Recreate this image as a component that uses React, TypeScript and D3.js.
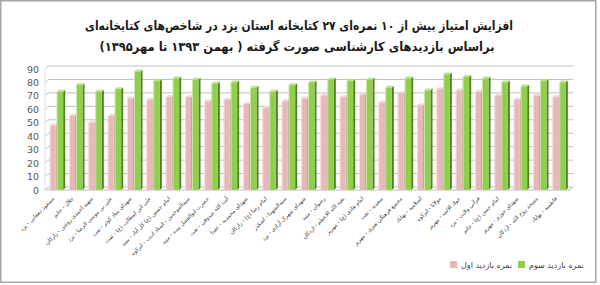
import React from "react";
import * as d3 from "d3";

const categories = [
  "مسعود دهقانی - یزد",
  "جلال - خاتم",
  "شهید احمدی روشن - زارکان",
  "علی بن موسی الرضا - یزد",
  "شهدای بنیاد کوثر - تفت",
  "علی ابن ابیطالب (ع) - تفت",
  "امام حسین (ع) کل آباد - میبد",
  "سیدالموحدین - استاد ادیب - ابرکوه",
  "حضرت ابوالفضل بیده - میبد",
  "آیت الله صدوقی - تفت",
  "شهدای محمدیه - عقدا",
  "امام رضا (ع) - زارکان",
  "سیدالشهدا - اشکذر",
  "شهدای شهرک آزادی - یزد",
  "رضوان - میبد",
  "بقیه الله الاعظم - اردکان",
  "امام هادی (ع) - مهریز",
  "سعدیه - تفت",
  "مجتمع فرهنگی هنری - مهریز",
  "اسلامیه - بهاباد",
  "مولانا - ابرکوه",
  "جواد الائمه - مهریز",
  "قرآنی ولایت - یزد",
  "امام حسن (ع) - خاتم",
  "شهدای جوزم - مهریز",
  "مسجد روح الله - اردکان",
  "فاطمیه - بهاباد",
];

const firstVisit = [48, 55, 50, 55, 68, 67, 69, 69, 66, 67, 64, 61, 66, 68, 70, 69, 71, 65, 72, 63, 75, 74, 73, 70, 67, 70, 69];
const thirdVisit = [73, 78, 73, 75, 88, 81, 83, 82, 79, 80, 76, 73, 78, 80, 82, 81, 82, 76, 83, 74, 86, 84, 83, 80, 77, 81, 80];

const yTicks = [0, 10, 20, 30, 40, 50, 60, 70, 80, 90];

const titleLine1 = "افزایش امتیاز بیش از ۱۰ نمره‌ای ۲۷ کتابخانه استان یزد در شاخص‌های کتابخانه‌ای";
const titleLine2 = "براساس بازدیدهای  کارشناسی صورت گرفته ( بهمن ۱۳۹۳ تا مهر۱۳۹۵)";
const legendFirst = "نمره بازدید اول";
const legendThird = "نمره بازدید سوم";

const W = 600;
const H = 285;
const FONT = "'DejaVu Sans', sans-serif";

export default function App() {
  const x = d3.scaleBand<string>().domain(categories).range([47, 569]).paddingInner(0);
  const y = d3.scaleLinear().domain([0, 90]).range([190, 69]);
  const d = 2;
  const off = 3;

  const bar = (cx: number, w: number, v: number, front: string, side: string, top: string, key: string) => {
    const y0 = y(0);
    const yv = y(v);
    return (
      <g key={key}>
        <polygon points={`${cx + w},${yv} ${cx + w + d},${yv - d} ${cx + w + d},${y0 - d} ${cx + w},${y0}`} fill={side} />
        <polygon points={`${cx},${yv} ${cx + d},${yv - d} ${cx + w + d},${yv - d} ${cx + w},${yv}`} fill={top} />
        <rect x={cx} y={yv} width={w} height={y0 - yv} fill={front} />
        <line x1={cx + 0.5} x2={cx + 0.5} y1={yv} y2={y0} stroke="#ffffff" strokeOpacity={0.5} strokeWidth={1} />
      </g>
    );
  };

  return (
    <svg width={W} height={H} style={{ position: "absolute", left: 0, top: 0, background: "#fff" }} fontFamily={FONT}>
      <rect x={0.75} y={0.75} width={595} height={281.5} fill="#fff" stroke="#a6a6a6" strokeWidth={1.5} />
      <text x={299} y={30} textAnchor="middle" fontSize={12.5} fontWeight="bold" fill="#1a1a1a" direction="rtl"
        textLength={428} lengthAdjust="spacingAndGlyphs">
        {titleLine1}
      </text>
      <text x={297} y={51} textAnchor="middle" fontSize={12.5} fontWeight="bold" fill="#1a1a1a" direction="rtl"
        textLength={395} lengthAdjust="spacingAndGlyphs">
        {titleLine2}
      </text>

      {yTicks.map((t) => (
        <g key={"g" + t}>
          <line x1={45} y1={y(t)} x2={45 + off} y2={y(t) - off} stroke="#bfbfbf" strokeWidth={1} />
          <line x1={45 + off} y1={y(t) - off} x2={573} y2={y(t) - off} stroke="#bfbfbf" strokeWidth={1} />
        </g>
      ))}
      <line x1={45} y1={y(0)} x2={570} y2={y(0)} stroke="#bfbfbf" strokeWidth={1} />
      <line x1={570} y1={y(0)} x2={573} y2={y(0) - off} stroke="#bfbfbf" strokeWidth={1} />
      <line x1={45} y1={y(0)} x2={45} y2={y(90)} stroke="#d9d9d9" strokeWidth={0.8} />

      {yTicks.map((t) => (
        <text key={"yl" + t} x={39} y={y(t) + 3.5} textAnchor="end" fontSize={9.5} fill="#595959">
          {t}
        </text>
      ))}

      {categories.map((c, i) => {
        const cx = (x(c) as number) + x.bandwidth() / 2;
        return (
          <g key={"b" + i}>
            {bar(cx - 7, 6, firstVisit[i], "#e6b8b7", "#c9a09f", "#f2d6d5", "p" + i)}
            {bar(cx + 0, 6.5, thirdVisit[i], "#8fcf4c", "#4f7f22", "#b8e486", "g" + i)}
          </g>
        );
      })}

      {categories.map((c, i) => {
        const cx = (x(c) as number) + x.bandwidth() / 2;
        return (
          <text
            key={"xl" + i}
            transform={`translate(${cx - 2},${199}) rotate(-45)`}
            textAnchor="end"
            fontSize={5.5}
            fill="#404040"
          >
            {c}
          </text>
        );
      })}

      <rect x={450} y={261} width={7} height={7} fill="#e6b8b7" />
      <text x={461} y={268} fontSize={8} fill="#404040">{legendFirst}</text>
      <rect x={518} y={261} width={7} height={7} fill="#8fcf4c" />
      <text x={529} y={268} fontSize={8} fill="#404040">{legendThird}</text>
    </svg>
  );
}
